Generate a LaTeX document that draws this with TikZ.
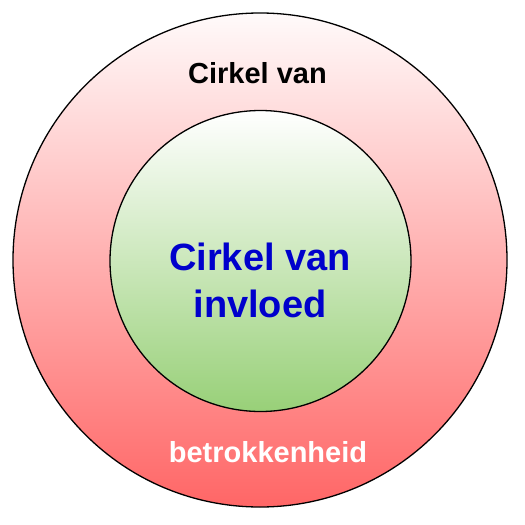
\documentclass[tikz,border=0pt]{standalone}
\usepackage{fontspec}
\setmainfont{Liberation Sans}
\begin{document}
\begin{tikzpicture}[x=1pt,y=-1pt,
  ring/.style={circle,draw=black,line width=1.3pt,inner sep=0pt},
  lbl/.style={font=\bfseries\fontsize{29}{35}\selectfont,inner sep=0pt}]
\useasboundingbox (0,0) rectangle (525,525);
\node[ring,minimum size=494pt,top color={rgb,255:red,255;green,250;blue,250},bottom color={rgb,255:red,255;green,102;blue,102}] (outer) at (260,260) {};
\node[ring,minimum size=301pt,top color=white,bottom color={rgb,255:red,152;green,208;blue,120}] (inner) at (260.5,261) {};
\node[lbl,anchor=base] (top) at (257.5,83) {Cirkel van};
\node[lbl,anchor=base,text=white] (bottom) at (268,462) {betrokkenheid};
\node[font=\bfseries\fontsize{38}{47}\selectfont,text={rgb,255:red,0;green,0;blue,204},align=center,inner sep=0pt] (infl) at (260,280) {Cirkel van\\invloed};
\end{tikzpicture}
\end{document}
